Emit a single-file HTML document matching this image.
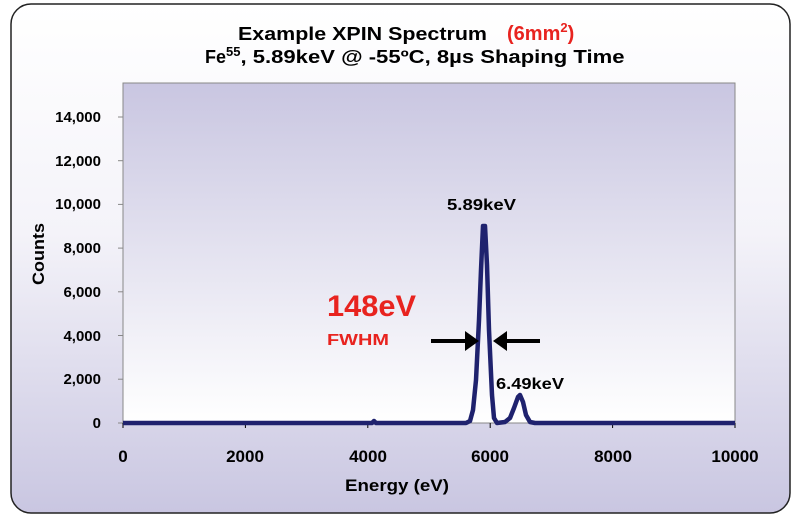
<!DOCTYPE html>
<html><head><meta charset="utf-8"><style>
body{margin:0;width:800px;height:521px;background:#fff;overflow:hidden}
svg{display:block;font-family:"Liberation Sans",Arial,sans-serif;font-weight:bold}
</style></head><body>
<svg width="800" height="521" viewBox="0 0 800 521">
<defs>
<linearGradient id="og" x1="0" y1="0" x2="0" y2="1"><stop offset="0" stop-color="#ffffff"/><stop offset="0.45" stop-color="#f4f3f9"/><stop offset="1" stop-color="#c9c6e1"/></linearGradient>
<linearGradient id="pg" x1="0" y1="0" x2="0" y2="1"><stop offset="0" stop-color="#c9c6e1"/><stop offset="1" stop-color="#ffffff"/></linearGradient>
</defs>
<rect x="11" y="4" width="779" height="509" rx="20" fill="url(#og)" stroke="#222" stroke-width="1.5"/>
<text x="238" y="40" font-size="18" fill="#000" textLength="249" lengthAdjust="spacingAndGlyphs">Example XPIN Spectrum</text>
<text x="507" y="40" font-size="20" fill="#e8231f">(6mm<tspan font-size="13" dy="-8">2</tspan><tspan dy="8">)</tspan></text>
<text x="205" y="63" font-size="18" fill="#000">Fe<tspan font-size="13" dy="-7">55</tspan><tspan dy="7" textLength="384" lengthAdjust="spacingAndGlyphs">, 5.89keV @ -55ºC, 8µs Shaping Time</tspan></text>
<rect x="123" y="83" width="612" height="340" fill="url(#pg)" stroke="#888" stroke-width="1"/>
<g stroke="#888" stroke-width="1">
<line x1="118" y1="117" x2="123" y2="117"/><line x1="118" y1="160.7" x2="123" y2="160.7"/><line x1="118" y1="204.4" x2="123" y2="204.4"/><line x1="118" y1="248.1" x2="123" y2="248.1"/><line x1="118" y1="291.8" x2="123" y2="291.8"/><line x1="118" y1="335.5" x2="123" y2="335.5"/><line x1="118" y1="379.2" x2="123" y2="379.2"/><line x1="118" y1="423" x2="123" y2="423"/>
</g>
<g stroke="#000" stroke-width="1">
<line x1="123" y1="423" x2="123" y2="428"/><line x1="245.4" y1="423" x2="245.4" y2="428"/><line x1="367.8" y1="423" x2="367.8" y2="428"/><line x1="490.2" y1="423" x2="490.2" y2="428"/><line x1="612.6" y1="423" x2="612.6" y2="428"/><line x1="735" y1="423" x2="735" y2="428"/>
</g>
<g font-size="15" text-anchor="end" fill="#000">
<text x="101" y="122">14,000</text><text x="101" y="166">12,000</text><text x="101" y="209">10,000</text><text x="101" y="253">8,000</text><text x="101" y="297">6,000</text><text x="101" y="341">4,000</text><text x="101" y="384">2,000</text><text x="101" y="428">0</text>
</g>
<g font-size="17" text-anchor="middle" fill="#000">
<text x="123" y="462">0</text><text x="245" y="462">2000</text><text x="368" y="462">4000</text><text x="490" y="462">6000</text><text x="613" y="462">8000</text><text x="735" y="462">10000</text>
</g>
<text x="345" y="491" font-size="17" textLength="104" lengthAdjust="spacingAndGlyphs">Energy (eV)</text>
<text transform="translate(44,254) rotate(-90)" font-size="17" text-anchor="middle" textLength="62" lengthAdjust="spacingAndGlyphs">Counts</text>
<polyline fill="none" stroke="#1f226e" stroke-width="4.5" stroke-linejoin="round" points="123,423 372,423 374,421 376,423 466,423 470,421 473,410 476,380 479,320 481,270 483,226 485,226 487,265 489,330 492,395 494,418 497,423 505,422 510,418 514,408 518,397 520,395 523,402 526,415 530,422 535,423 735,423"/>
<line x1="431" y1="341" x2="466" y2="341" stroke="#000" stroke-width="4"/>
<polygon points="465,331 479,341 465,351" fill="#000"/>
<line x1="506" y1="341" x2="540" y2="341" stroke="#000" stroke-width="4"/>
<polygon points="507,331 493,341 507,351" fill="#000"/>
<text x="447" y="210" font-size="16" textLength="69" lengthAdjust="spacingAndGlyphs">5.89keV</text>
<text x="496" y="389" font-size="16" textLength="68" lengthAdjust="spacingAndGlyphs">6.49keV</text>
<text x="327" y="316" font-size="30" fill="#e8231f" textLength="89" lengthAdjust="spacingAndGlyphs">148eV</text>
<text x="327" y="345" font-size="16" fill="#e8231f" textLength="62" lengthAdjust="spacingAndGlyphs">FWHM</text>
</svg>
</body></html>
